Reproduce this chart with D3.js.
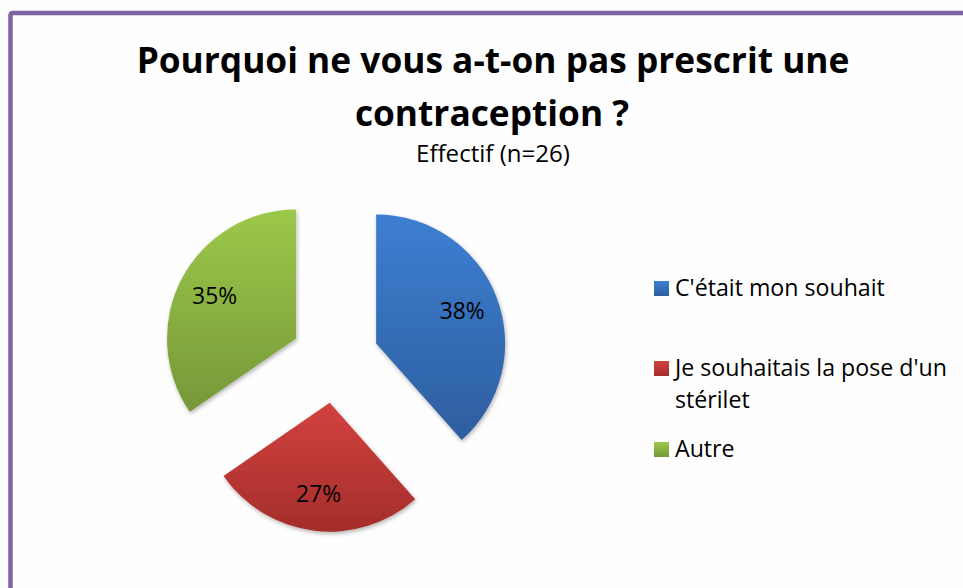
<!DOCTYPE html>
<html>
<head>
<meta charset="utf-8">
<script src="https://cdn.jsdelivr.net/npm/d3@7"></script>
<style>
  html, body { margin: 0; padding: 0; background: #ffffff; }
  svg { display: block; }
  text { font-family: "Open Sans", "Noto Sans", sans-serif; fill: #000; }
</style>
</head>
<body>
<svg id="chart" width="963" height="588"></svg>
<script>
// ---- Data ----
const titleLines = ["Pourquoi ne vous a-t-on pas prescrit une", "contraception ?"];
const subtitle = "Effectif (n=26)";
const categories = ["C'était mon souhait", "Je souhaitais la pose d'un stérilet", "Autre"];
const legendLines = [["C'était mon souhait"], ["Je souhaitais la pose d'un", "stérilet"], ["Autre"]];
const counts = [10, 7, 9];
const colorsTop = ["#3D7FD3", "#D2423F", "#9CC849"];
const colorsBottom = ["#2E5E9E", "#A42D2A", "#76983A"];

// ---- Layout ----
const W = 963, H = 588;
const svg = d3.select("#chart");
const defs = svg.append("defs");

// background
svg.append("rect").attr("width", W).attr("height", H).attr("fill", "#fefefe");

// frame (purple border, top & left visible)
svg.append("rect")
  .attr("x", 10.5).attr("y", 13).attr("width", 1200).attr("height", 1200)
  .attr("rx", 2)
  .attr("fill", "none").attr("stroke", "#8064A2").attr("stroke-width", 4.5);

function fitText(sel, target) {
  const w = sel.node().getComputedTextLength();
  const fs = parseFloat(sel.attr("font-size"));
  sel.attr("font-size", fs * target / w);
}

// Title
const t1 = svg.append("text").attr("x", 493).attr("y", 73)
  .attr("text-anchor", "middle").attr("font-weight", "bold").attr("font-size", 32)
  .text(titleLines[0]);
fitText(t1, 713);
const t2 = svg.append("text").attr("x", 492).attr("y", 126)
  .attr("text-anchor", "middle").attr("font-weight", "bold").attr("font-size", t1.attr("font-size"))
  .text(titleLines[1]);
const st = svg.append("text").attr("x", 493).attr("y", 162)
  .attr("text-anchor", "middle").attr("font-size", 20)
  .text(subtitle);
fitText(st, 154);

// gradients
categories.forEach((c, i) => {
  const g = defs.append("linearGradient").attr("id", "grad" + i)
    .attr("x1", 0).attr("y1", 0).attr("x2", 0).attr("y2", 1);
  g.append("stop").attr("offset", "0%").attr("stop-color", colorsTop[i]);
  g.append("stop").attr("offset", "100%").attr("stop-color", colorsBottom[i]);
});

// shadow
const f = defs.append("filter").attr("id", "shadow")
  .attr("x", "-20%").attr("y", "-20%").attr("width", "140%").attr("height", "140%");
f.append("feDropShadow").attr("dx", 1).attr("dy", 2).attr("stdDeviation", 2)
  .attr("flood-color", "#000").attr("flood-opacity", 0.3);

// Pie
const cx = 335, cy = 359, R = 129, explode = 44, labelR = 92;
const total = d3.sum(counts);
const pie = d3.pie().sort(null).value(d => d).startAngle(0).endAngle(2 * Math.PI);
const arcs = pie(counts);
const arc = d3.arc().innerRadius(0).outerRadius(R);

const pieG = svg.append("g").attr("transform", `translate(${cx},${cy})`);
const slices = pieG.selectAll("g.slice").data(arcs).enter().append("g")
  .attr("class", "slice")
  .attr("transform", d => {
    const a = (d.startAngle + d.endAngle) / 2;
    return `translate(${explode * Math.sin(a)},${-explode * Math.cos(a)})`;
  });
slices.append("path")
  .attr("d", arc)
  .attr("fill", (d, i) => `url(#grad${i})`)
  .attr("filter", "url(#shadow)");
slices.each(function(d, i) {
  const a = (d.startAngle + d.endAngle) / 2;
  const lab = d3.select(this).append("text")
    .attr("x", labelR * Math.sin(a))
    .attr("y", -labelR * Math.cos(a))
    .attr("dy", "0.36em")
    .attr("text-anchor", "middle")
    .attr("font-size", 21)
    .text(Math.round(100 * d.data / total) + "%");
});
// fit percentages to ~45px width
pieG.selectAll("text").each(function() { fitText(d3.select(this), 45); });

// Legend
const legendX = 654, legendBaselines = [296, 376, 457], lineH = 32, sq = 15;
const legG = svg.append("g");
const legText = [];
legendLines.forEach((lines, i) => {
  legG.append("rect")
    .attr("x", legendX).attr("y", legendBaselines[i] - sq)
    .attr("width", sq).attr("height", sq)
    .attr("fill", `url(#grad${i})`);
  lines.forEach((ln, j) => {
    const t = legG.append("text")
      .attr("x", legendX + 21).attr("y", legendBaselines[i] + j * lineH)
      .attr("font-size", 21).text(ln);
    legText.push(t);
  });
});
// size based on the longest line
const ref = legText[1];
const w0 = ref.node().getComputedTextLength();
const fsL = 21 * 272 / w0;
legText.forEach(t => t.attr("font-size", fsL));
</script>
</body>
</html>
